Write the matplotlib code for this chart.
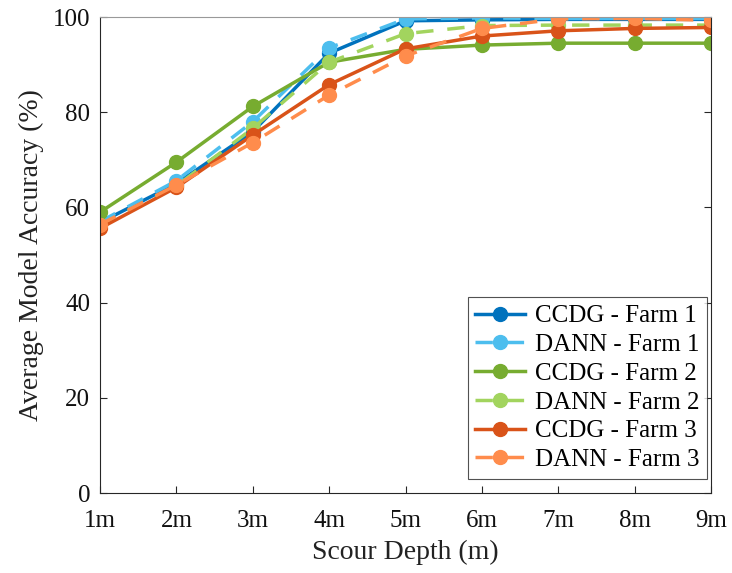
import numpy as np
import matplotlib.pyplot as plt

plt.rcParams['font.family'] = ['Liberation Serif', 'DejaVu Serif']

depths = ['1m', '2m', '3m', '4m', '5m', '6m', '7m', '8m', '9m']

ccdg_farm1 = [56.8, 65.0, 75.9, 92.4, 99.2, 99.4, 99.5, 99.5, 99.5]
dann_farm1 = [57.0, 65.6, 78.0, 93.5, 99.6, 99.8, 99.7, 99.7, 99.7]
ccdg_farm2 = [59.0, 69.5, 81.2, 90.5, 93.2, 94.1, 94.5, 94.5, 94.5]
dann_farm2 = [56.2, 64.5, 76.6, 90.5, 96.5, 98.2, 98.3, 98.3, 98.3]
ccdg_farm3 = [55.6, 64.2, 75.2, 85.8, 93.3, 96.0, 97.1, 97.6, 97.8]
dann_farm3 = [56.4, 64.7, 73.6, 83.6, 91.8, 97.6, 99.6, 99.7, 99.3]

series = [
    ('CCDG - Farm 1', ccdg_farm1, '#0072BD', '-'),
    ('DANN - Farm 1', dann_farm1, '#4DBEEE', '--'),
    ('CCDG - Farm 2', ccdg_farm2, '#77AC30', '-'),
    ('DANN - Farm 2', dann_farm2, '#A2D45E', '--'),
    ('CCDG - Farm 3', ccdg_farm3, '#D95319', '-'),
    ('DANN - Farm 3', dann_farm3, '#FF8C4C', '--'),
]

fig = plt.figure(figsize=(7.32, 5.73), dpi=100)
ax = fig.add_axes([100 / 732, 80 / 573, 611 / 732, 476 / 573])

x = np.arange(1, len(depths) + 1)
for label, vals, color, ls in series:
    ax.plot(x, vals, ls, color=color, lw=2.5, marker='o', ms=10,
            dashes=(5, 4) if ls == '--' else (None, None), label=label)

ax.set_xlim(1, 9)
ax.set_ylim(0, 100)
ax.set_xticks(x)
ax.set_xticklabels(depths)
ax.set_yticks(np.arange(0, 101, 20))
ax.tick_params(direction='in', length=5, width=0.8, labelsize=18, colors='#262626',
               top=False, right=True)
ax.tick_params(axis='y', pad=7)
ax.tick_params(axis='x', pad=12)
ax.tick_params(labelcolor='#111111')
for s in ax.spines.values():
    s.set_color('#262626')
    s.set_linewidth(0.8)
ax.spines['top'].set_color('#999999')

ax.set_xlabel('Scour Depth (m)', fontsize=20, color='#222222', labelpad=6)
ax.set_ylabel('Average Model Accuracy (%)', fontsize=20, color='#222222', labelpad=6)

leg = ax.legend(loc='lower right', fontsize=18, frameon=True, fancybox=False,
                edgecolor='#262626', handlelength=2.0, handletextpad=0.4,
                labelspacing=0.25, borderpad=0.3, borderaxespad=0.0,
                bbox_to_anchor=(0.994, 0.03))
leg.get_frame().set_linewidth(0.8)

fig.savefig('out.png', dpi=100)
